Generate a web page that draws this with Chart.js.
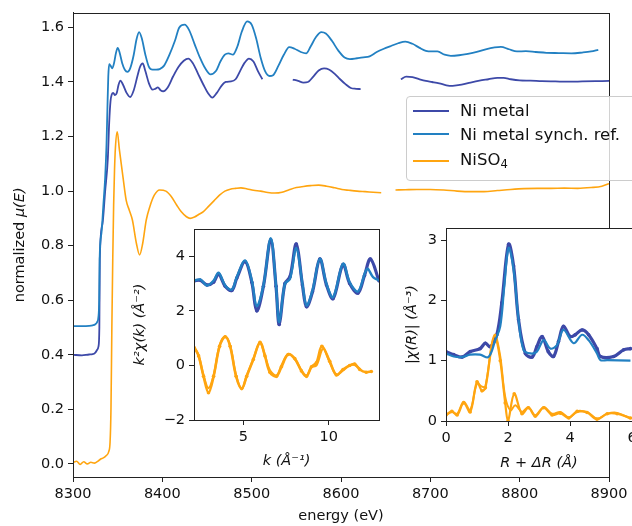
<!DOCTYPE html>
<html lang="en">
<head>
<meta charset="UTF-8">
<title>Ni K-edge</title>
<script src="https://cdn.jsdelivr.net/npm/chart.js"></script>
<style>
  html, body { margin: 0; padding: 0; background: #fff; overflow: hidden; }
  #wrap { position: relative; width: 632px; height: 526px; overflow: hidden; font-family: "DejaVu Sans", sans-serif; }
  canvas { position: absolute; }
  #main { left: 0; top: 0; }
  #kplot { left: 120px; top: 215px; }
  #rplot { left: 395px; top: 215px; }
  #legend { position: absolute; left: 406px; top: 96px; width: 240px; height: 83px; border: 1px solid #cccccc; border-radius: 4px; background: rgba(255,255,255,0.8); }
  #legend .sw { position: absolute; left: 6px; width: 36px; height: 0; border-top: 2px solid; }
  #legend .tx { position: absolute; left: 53px; font-size: 16.5px; line-height: 16.5px; color: #111; white-space: nowrap; }
  #legend sub { font-size: 0.7em; vertical-align: -0.25em; line-height: 0; }
</style>
</head>
<body>
<div id="wrap">
  <canvas id="main" width="632" height="526"></canvas>
  <canvas id="kplot" width="265" height="262"></canvas>
  <canvas id="rplot" width="265" height="262"></canvas>
  <div id="legend">
    <div class="sw" style="top:13px;border-color:#3d49a8"></div>
    <div class="tx" style="top:6px">Ni metal</div>
    <div class="sw" style="top:36px;border-color:#2280c2"></div>
    <div class="tx" style="top:30px">Ni metal synch. ref.</div>
    <div class="sw" style="top:63px;border-color:#ffa510"></div>
    <div class="tx" style="top:55px">NiSO<sub>4</sub></div>
  </div>
</div>

<script>
    const NI_COLOR = '#3d49a8';
    const REF_COLOR = '#2280c2';
    const SO4_COLOR = '#ffa510';

    // main panel: normalized mu(E) vs energy, [eV, mu]; null = gap in the scan
    const energyTicks = [8300, 8400, 8500, 8600, 8700, 8800, 8900];
    const muTicks = [0.0, 0.2, 0.4, 0.6, 0.8, 1.0, 1.2, 1.4, 1.6];

    const niMetal = [
        [8300,0.400],[8310,0.398],[8318,0.401],[8322,0.402],[8325,0.408],[8327,0.418],[8328.5,0.430],
        [8329.5,0.500],[8330,0.750],[8333,0.880],[8336,1.000],[8339,1.120],[8340.5,1.250],[8342,1.330],
        [8343.5,1.355],[8345,1.360],[8347,1.352],[8349,1.360],[8351,1.390],[8353,1.405],[8356,1.390],
        [8360,1.360],[8364,1.345],[8368,1.370],[8372,1.420],[8375,1.455],[8378,1.468],[8381,1.440],
        [8385,1.395],[8389,1.372],[8392,1.375],[8395,1.380],[8398,1.370],[8401,1.366],[8406,1.380],
        [8412,1.420],[8418,1.455],[8424,1.478],[8429,1.486],[8434,1.470],[8440,1.430],[8446,1.390],
        [8451,1.360],[8456,1.343],[8461,1.360],[8466,1.385],[8471,1.400],[8477,1.402],[8482,1.410],
        [8487,1.440],[8492,1.470],[8497,1.486],[8502,1.475],[8507,1.440],[8512,1.410],
        [8530,null],
        [8546,1.409],[8552,1.404],[8558,1.398],[8563,1.400],[8569,1.420],[8575,1.442],[8581,1.450],
        [8587,1.445],[8593,1.430],[8599,1.410],[8605,1.392],[8611,1.378],[8617,1.375],[8622,1.374],
        [8645,null],
        [8667,1.410],[8673,1.420],[8680,1.418],[8688,1.410],[8695,1.404],[8702,1.400],[8710,1.395],
        [8718,1.388],[8725,1.386],[8735,1.390],[8745,1.398],[8755,1.405],[8765,1.410],[8775,1.415],
        [8782,1.415],[8790,1.410],[8800,1.406],[8812,1.405],[8825,1.403],[8840,1.402],[8855,1.401],
        [8870,1.402],[8885,1.403],[8900,1.404]
    ];

    const niSynchRef = [
        [8300,0.505],[8310,0.505],[8318,0.506],[8322,0.508],[8325,0.512],[8327,0.520],[8328.5,0.540],
        [8329.3,0.600],[8329.8,0.750],[8332,0.850],[8334,0.950],[8336,1.050],[8337.5,1.170],[8338.5,1.300],
        [8339.5,1.420],[8340.5,1.465],[8342,1.460],[8344,1.450],[8346,1.470],[8348,1.505],[8350,1.525],
        [8352,1.510],[8355,1.470],[8358,1.445],[8361,1.437],[8364,1.450],[8368,1.500],[8371,1.555],
        [8374,1.583],[8377,1.560],[8381,1.500],[8385,1.455],[8389,1.445],[8393,1.445],[8397,1.447],
        [8402,1.460],[8408,1.500],[8414,1.550],[8419,1.600],[8425,1.610],[8430,1.590],[8436,1.540],
        [8442,1.490],[8448,1.450],[8454,1.428],[8460,1.440],[8465,1.475],[8470,1.500],[8474,1.505],
        [8479,1.500],[8484,1.530],[8489,1.585],[8495,1.622],[8500,1.610],[8505,1.560],[8510,1.490],
        [8515,1.440],[8520,1.422],[8524,1.425],[8530,1.460],[8536,1.500],[8542,1.528],[8548,1.522],
        [8555,1.510],[8561,1.505],[8566,1.530],[8572,1.565],[8578,1.583],[8583,1.578],[8590,1.550],
        [8597,1.515],[8604,1.490],[8610,1.484],[8618,1.487],[8625,1.490],[8632,1.494],[8640,1.510],
        [8648,1.522],[8656,1.532],[8664,1.542],[8672,1.548],[8680,1.540],[8688,1.525],[8695,1.514],
        [8702,1.512],[8708,1.512],[8716,1.500],[8723,1.496],[8732,1.498],[8742,1.503],[8752,1.510],
        [8762,1.520],[8772,1.527],[8779,1.529],[8788,1.520],[8797,1.512],[8807,1.513],[8818,1.510],
        [8830,1.507],[8844,1.506],[8858,1.505],[8870,1.508],[8880,1.512],[8888,1.518]
    ];

    const niSO4 = [
        [8300,0.005],[8304,0.010],[8308,-0.002],[8312,0.008],[8316,0.000],[8320,0.006],[8324,0.003],
        [8328,0.010],[8331,0.018],[8334,0.022],[8337,0.030],[8340,0.045],[8341.5,0.080],[8342.5,0.200],
        [8343.5,0.500],[8344.5,0.750],[8345.5,0.950],[8346.5,1.080],[8347.5,1.160],[8349.5,1.217],
        [8352,1.150],[8356,1.050],[8359.5,0.967],[8363,0.930],[8366.5,0.894],[8371,0.808],[8374.5,0.766],
        [8378,0.808],[8382,0.894],[8386,0.943],[8391,0.985],[8397,1.004],[8404,1.000],[8410,0.980],
        [8416,0.949],[8421,0.925],[8427,0.906],[8431,0.900],[8436,0.905],[8441,0.915],[8446,0.925],
        [8452,0.945],[8458,0.965],[8464,0.985],[8470,1.000],[8476,1.007],[8482,1.010],[8488,1.012],
        [8495,1.008],[8502,1.003],[8510,1.000],[8518,0.995],[8526,0.993],[8534,0.996],[8542,1.005],
        [8550,1.013],[8558,1.017],[8566,1.020],[8575,1.022],[8584,1.018],[8593,1.012],[8601,1.006],
        [8609,1.003],[8618,1.000],[8627,0.998],[8636,0.996],[8645,0.994],
        [8653,null],
        [8661,1.004],[8672,1.005],[8685,1.006],[8700,1.006],[8715,1.004],[8730,1.000],[8745,0.998],
        [8760,0.998],[8775,1.002],[8790,1.006],[8805,1.009],[8820,1.010],[8835,1.010],[8850,1.011],
        [8865,1.010],[8880,1.013],[8892,1.018],[8900,1.027]
    ];

    // left inset: k^2 chi(k), [k, value]
    const kTicks = [5, 10];
    const chiTicks = [-2, 0, 2, 4];
    const niChiData = [
        [2.12,3.10],[2.47,3.12],[2.86,2.95],[3.25,3.05],[3.54,3.35],[3.93,2.90],[4.32,2.75],[4.61,3.20],
        [5.10,3.80],[5.49,3.05],[5.78,2.00],[6.17,2.90],[6.60,4.60],[6.91,2.90],[7.10,1.50],[7.43,3.00],
        [7.73,3.25],[8.10,4.45],[8.46,2.95],[8.70,2.15],[9.05,2.70],[9.48,3.90],[9.87,2.95],[10.26,2.45],
        [10.84,3.70],[11.23,3.00],[11.72,2.65],[12.10,3.30],[12.45,3.90],[12.95,3.10]
    ];
    const niChiFit = [
        [2.12,3.11],[2.47,3.15],[2.86,2.93],[3.25,3.11],[3.54,3.40],[3.93,2.93],[4.32,2.78],[4.61,3.24],
        [5.10,3.85],[5.49,3.11],[5.78,2.17],[6.17,2.93],[6.60,4.66],[6.91,2.93],[7.10,1.58],[7.43,2.99],
        [7.73,3.17],[8.10,4.30],[8.46,2.99],[8.70,2.20],[9.05,2.75],[9.48,3.91],[9.87,2.99],[10.26,2.50],
        [10.84,3.73],[11.23,3.05],[11.72,2.71],[12.25,3.54],[12.60,3.24],[12.95,3.11]
    ];
    const so4ChiData = [
        [2.12,0.65],[2.37,0.35],[2.66,-0.40],[2.95,-1.00],[3.25,-0.40],[3.60,0.70],[3.93,1.05],[4.22,0.70],
        [4.57,-0.40],[4.90,-0.85],[5.19,-0.40],[5.58,0.22],[5.97,0.85],[6.26,0.35],[6.55,-0.25],[6.94,-0.40],
        [7.23,-0.05],[7.62,0.40],[8.01,0.25],[8.40,-0.20],[8.70,-0.40],[8.99,-0.05],[9.28,0.10],[9.60,0.70],
        [10.06,0.15],[10.45,-0.35],[10.84,-0.15],[11.23,0.00],[11.52,0.05],[11.82,-0.15],[12.20,-0.25],[12.50,-0.22]
    ];
    const so4ChiFit = [
        [2.12,0.67],[2.37,0.37],[2.66,-0.37],[2.95,-0.83],[3.25,-0.37],[3.60,0.73],[3.93,1.07],[4.22,0.73],
        [4.57,-0.37],[4.90,-0.86],[5.19,-0.37],[5.58,0.24],[5.97,0.83],[6.26,0.37],[6.55,-0.18],[6.94,-0.37],
        [7.23,0.00],[7.62,0.42],[8.01,0.24],[8.40,-0.18],[8.70,-0.37],[8.99,-0.06],[9.28,0.00],[9.67,0.61],
        [10.06,0.12],[10.45,-0.34],[10.84,-0.18],[11.23,0.00],[11.52,0.02],[11.82,-0.12]
    ];

    // right inset: |chi(R)|, [R, value]
    const rTicks = [0, 2, 4, 6];
    const ftTicks = [0, 1, 2, 3];
    const niFtData = [
        [0.00,1.15],[0.25,1.10],[0.52,1.06],[0.78,1.15],[1.10,1.20],[1.27,1.29],[1.43,1.23],[1.64,1.43],
        [1.80,1.96],[2.02,2.93],[2.18,2.57],[2.34,1.68],[2.56,1.12],[2.78,1.06],[2.93,1.23],[3.10,1.40],
        [3.30,1.15],[3.47,1.07],[3.63,1.32],[3.79,1.57],[4.01,1.40],[4.17,1.43],[4.39,1.51],[4.60,1.43],
        [4.87,1.20],[4.98,1.07],[5.41,1.07],[5.73,1.18],[5.95,1.20]
    ];
    const niFtFit = [
        [0.00,1.12],[0.25,1.07],[0.52,1.06],[0.78,1.10],[1.10,1.10],[1.37,1.06],[1.59,1.34],[1.75,1.57],
        [1.88,2.23],[2.02,2.87],[2.18,2.51],[2.34,1.68],[2.50,1.18],[2.72,1.12],[2.93,1.15],[3.15,1.34],
        [3.37,1.20],[3.58,1.26],[3.79,1.51],[4.12,1.29],[4.39,1.43],[4.60,1.34],[4.87,1.12],[4.98,1.01],
        [5.20,1.01],[5.95,1.00]
    ];
    const so4FtData = [
        [0.00,0.10],[0.19,0.16],[0.36,0.10],[0.57,0.30],[0.78,0.15],[1.00,0.65],[1.16,0.50],[1.27,0.55],
        [1.48,1.25],[1.59,1.40],[1.75,1.00],[1.91,0.30],[2.00,0.00],[2.20,0.45],[2.45,0.12],[2.66,0.22],
        [2.88,0.08],[3.15,0.22],[3.42,0.10],[3.69,0.13],[3.96,0.05],[4.23,0.16],[4.55,0.14],[4.87,0.03],
        [5.20,0.12],[5.52,0.12],[5.95,0.05]
    ];
    const so4FtFit = [
        [0.00,0.095],[0.19,0.15],[0.36,0.12],[0.57,0.32],[0.78,0.18],[1.00,0.62],[1.16,0.57],[1.27,0.57],
        [1.48,1.29],[1.59,1.43],[1.75,1.07],[1.91,0.40],[2.08,0.18],[2.24,0.26],[2.45,0.15],[2.66,0.23],
        [2.88,0.095],[3.15,0.23],[3.42,0.12],[3.69,0.15],[3.96,0.06],[4.23,0.15],[4.55,0.15],[4.87,0.04],
        [5.20,0.12],[5.52,0.135],[5.95,0.04]
    ];

    const FONT = "'DejaVu Sans', sans-serif";
    const INK = '#111';

    function toPoints(pairs) {
        return pairs.map(p => ({ x: p[0], y: p[1] }));
    }

    function minusFmt(v) {
        return v < 0 ? '\u2212' + Math.abs(v) : String(v);
    }

    // white axes background and a full box around the plot area
    const framePlugin = {
        id: 'frame',
        beforeDraw(chart, args, opts) {
            const a = chart.chartArea;
            if (opts.fill) {
                chart.ctx.save();
                chart.ctx.fillStyle = opts.fill;
                chart.ctx.fillRect(a.left, a.top, a.right - a.left, a.bottom - a.top);
                chart.ctx.restore();
            }
        },
        afterDraw(chart, args, opts) {
            const a = chart.chartArea;
            const ctx = chart.ctx;
            ctx.save();
            ctx.strokeStyle = '#222';
            ctx.lineWidth = 1;
            ctx.strokeRect(Math.round(a.left) + 0.5, Math.round(a.top) + 0.5,
                Math.round(a.right - a.left), Math.round(a.bottom - a.top));
            // y label with an upright word and an italic symbol part
            if (opts.yLabel) {
                const parts = opts.yLabel;
                ctx.translate(opts.yLabelX, (a.top + a.bottom) / 2);
                ctx.rotate(-Math.PI / 2);
                ctx.fillStyle = INK;
                ctx.textBaseline = 'middle';
                let total = 0;
                parts.forEach(p => { ctx.font = p.font; total += ctx.measureText(p.text).width; });
                let x = -total / 2;
                ctx.textAlign = 'left';
                parts.forEach(p => {
                    ctx.font = p.font;
                    ctx.fillText(p.text, x, 0);
                    x += ctx.measureText(p.text).width;
                });
            }
            ctx.restore();
        }
    };

    function lineSet(label, pairs, color, width, extra) {
        return Object.assign({
            label: label,
            data: toPoints(pairs),
            borderColor: color,
            backgroundColor: color,
            borderWidth: width,
            pointRadius: 0,
            pointBorderWidth: 0,
            fill: false,
            spanGaps: false,
            cubicInterpolationMode: 'monotone'
        }, extra || {});
    }

    function axis(opts) {
        const fontSize = opts.fontSize || 14.5;
        return {
            type: 'linear',
            position: opts.position,
            min: opts.min,
            max: opts.max,
            afterFit: scale => {
                if (opts.position === 'left') scale.width = opts.size;
                else scale.height = opts.size;
            },
            afterBuildTicks: scale => {
                scale.ticks = opts.ticks.map(v => ({ value: v }));
            },
            grid: { drawOnChartArea: false, tickLength: 5, tickColor: '#222', tickWidth: 1 },
            border: { display: true, color: '#222', width: 1 },
            ticks: {
                autoSkip: false,
                maxRotation: 0,
                padding: opts.tickPad == null ? 4 : opts.tickPad,
                color: INK,
                font: { family: FONT, size: fontSize },
                callback: opts.fmt
            },
            title: {
                display: !!opts.title,
                text: opts.title || '',
                color: INK,
                font: { family: FONT, size: opts.titleSize || fontSize, style: opts.italic ? 'italic' : 'normal' },
                padding: opts.titlePad
            }
        };
    }

    function baseOptions(padding, xAxis, yAxis, frame) {
        return {
            responsive: false,
            animation: false,
            devicePixelRatio: 1,
            layout: { padding: padding },
            scales: { x: xAxis, y: yAxis },
            plugins: {
                legend: { display: false },
                tooltip: { enabled: false },
                frame: frame
            }
        };
    }

    // Chart.js paints the first dataset last, so fits come first to sit on top of the data
    const dataStyle = { pointRadius: 1.8, cubicInterpolationMode: 'default', tension: 0.35 };
    const fitStyle = { cubicInterpolationMode: 'default', tension: 0.35 };

    // main XANES panel
    new Chart(document.getElementById('main').getContext('2d'), {
        type: 'line',
        data: {
            datasets: [
                lineSet('NiSO4', niSO4, SO4_COLOR, 1.6),
                lineSet('Ni metal synch. ref.', niSynchRef, REF_COLOR, 1.8),
                lineSet('Ni metal', niMetal, NI_COLOR, 1.8)
            ]
        },
        options: baseOptions(
            { left: 0, top: 12, right: 23, bottom: 0 },
            axis({ position: 'bottom', min: 8300, max: 8900, ticks: energyTicks, size: 49,
                   title: 'energy (eV)', titlePad: { top: 0, bottom: 1 }, fmt: v => String(v) }),
            axis({ position: 'left', min: -0.048, max: 1.654, ticks: muTicks, size: 73,
                   title: '', fmt: v => v.toFixed(1) }),
            {
                fill: null,
                yLabelX: 20,
                yLabel: [
                    { text: 'normalized ', font: "14.5px 'DejaVu Sans', sans-serif" },
                    { text: '\u03bc(E)', font: "italic 14.5px 'DejaVu Sans', sans-serif" }
                ]
            }
        ),
        plugins: [framePlugin]
    });

    // k-space inset
    new Chart(document.getElementById('kplot').getContext('2d'), {
        type: 'line',
        data: {
            datasets: [
                lineSet('Ni metal fit', niChiFit, REF_COLOR, 2.4, fitStyle),
                lineSet('NiSO4 fit', so4ChiFit, SO4_COLOR, 2.2, fitStyle),
                lineSet('Ni metal data', niChiData, NI_COLOR, 3.2, dataStyle),
                lineSet('NiSO4 data', so4ChiData, SO4_COLOR, 2.6, dataStyle)
            ]
        },
        options: baseOptions(
            { left: 0, top: 14, right: 6, bottom: 0 },
            axis({ position: 'bottom', min: 2.1, max: 12.95, ticks: kTicks, size: 57,
                   title: 'k (\u00c5\u207b\u00b9)', italic: true, titlePad: { top: 0, bottom: 7 }, fmt: v => String(v) }),
            axis({ position: 'left', min: -2, max: 5, ticks: chiTicks, size: 74,
                   title: 'k\u00b2\u03c7(k) (\u00c5\u207b\u00b2)', italic: true, titlePad: { top: 12, bottom: 0 }, fmt: minusFmt }),
            { fill: '#ffffff' }
        ),
        plugins: [framePlugin]
    });

    // R-space inset
    new Chart(document.getElementById('rplot').getContext('2d'), {
        type: 'line',
        data: {
            datasets: [
                lineSet('Ni metal fit', niFtFit, REF_COLOR, 2.2, fitStyle),
                lineSet('NiSO4 fit', so4FtFit, SO4_COLOR, 2.0, fitStyle),
                lineSet('Ni metal data', niFtData, NI_COLOR, 3.2, dataStyle),
                lineSet('NiSO4 data', so4FtData, SO4_COLOR, 2.2, dataStyle)
            ]
        },
        options: baseOptions(
            { left: 0, top: 13, right: 28, bottom: 0 },
            axis({ position: 'bottom', min: 0, max: 6, ticks: rTicks, size: 56,
                   title: 'R + \u0394R (\u00c5)', italic: true, titlePad: { top: 0, bottom: 5 }, fmt: v => String(v) }),
            axis({ position: 'left', min: 0, max: 3.2, ticks: ftTicks, size: 51,
                   title: '|\u03c7(R)| (\u00c5\u207b\u00b3)', italic: true, titlePad: { top: 9, bottom: 0 }, fmt: v => String(v) }),
            { fill: '#ffffff' }
        ),
        plugins: [framePlugin]
    });
</script>
</body>
</html>
